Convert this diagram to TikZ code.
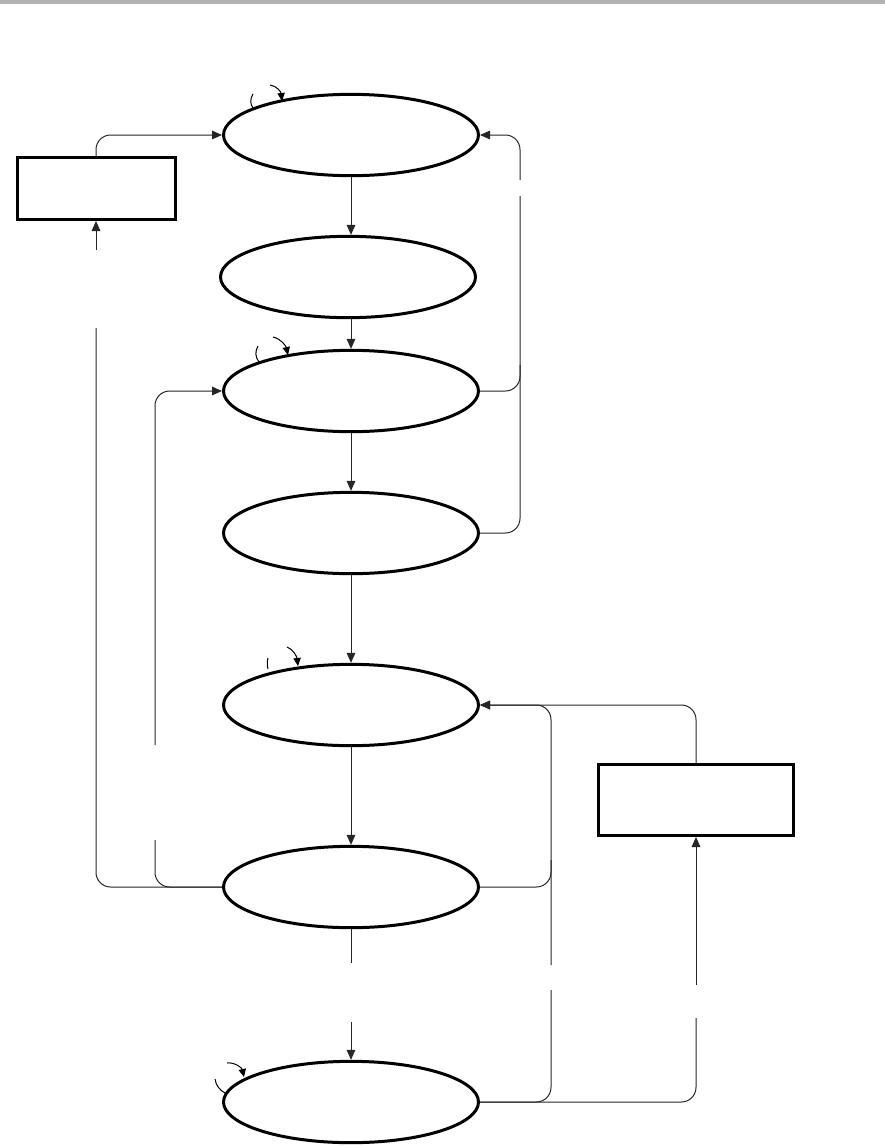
\documentclass[tikz,border=0pt]{standalone}
\usetikzlibrary{shapes.geometric,arrows.meta}
\begin{document}
\begin{tikzpicture}[x=0.75pt,y=-0.75pt,
 st/.style={ellipse,draw,line width=2.25pt,minimum width=191.25pt,minimum height=61pt,inner sep=0pt},
 bx/.style={rectangle,draw,line width=2.25pt,inner sep=0pt},
 conn/.style={draw=black!85,line width=0.75pt,rounded corners=11pt},
 arr/.style={-{Triangle[length=7.5pt,width=6.5pt]}},
 sarr/.style={-{Triangle[length=6pt,width=5.5pt]}},
 loopline/.style={draw,line width=0.75pt}]
\useasboundingbox (0,0) rectangle (885,1146);
\fill[black!30] (0,0) rectangle (885,4);

% states
\node[st] (e1) at (351,135) {};
\node[st] (e2) at (348,277) {};
\node[st] (e3) at (351,391) {};
\node[st] (e4) at (351,533) {};
\node[st] (e5) at (351,705) {};
\node[st] (e6) at (351,887) {};
\node[st] (e7) at (351,1102) {};
\node[bx,minimum width=118.5pt,minimum height=46.5pt] (b1) at (96,188.5) {};
\node[bx,minimum width=146.25pt,minimum height=53.25pt] (b2) at (696,800) {};

% box1 -> e1
\draw[conn,arr] (b1.north) |- (e1.west);
% e6 -> b1 (with gap)
\coordinate (L1) at (96,328);
\coordinate (L2) at (96,250);
\draw[conn] (e6.west) -| (L1);
\draw[conn,arr] (L2) -- (L2 |- b1.south);
% e6 -> e3 (with gap)
\coordinate (M1) at (155,840);
\coordinate (M2) at (155,745);
\draw[conn] (M1) |- (e6.west);
\draw[conn,arr] (M2) |- (e3.west);

% vertical chain
\draw[conn,arr] (e1.south) -- (e1.south |- e2.north);
\draw[conn,arr] (e2.south -| e3.north) -- (e3.north);
\draw[conn,arr] (e3.south) -- (e4.north);
\draw[conn,arr] (e4.south) -- (e5.north);
\draw[conn,arr] (e5.south) -- (e6.north);
\coordinate (N1) at (351,963);
\coordinate (N2) at (351,1022);
\draw[conn] (e6.south) -- (N1);
\draw[conn,arr] (N2) -- (e7.north);

% right upper return
\coordinate (R1) at (520,196);
\coordinate (R2) at (520,180);
\draw[conn] (e4.east) -| (R1);
\draw[conn] (e3.east) -| (520,365);
\draw[conn,arr] (R2) |- (e1.east);

% right lower return
\coordinate (S1) at (551,965);
\coordinate (S2) at (551,990);
\draw[conn] (e7.east) -| (S2);
\draw[conn] (e6.east) -| (551,860);
\draw[conn,arr] (S1) |- (e5.east);

% box2
\draw[conn,arr] (b2.north) |- (e5.east);
\coordinate (T1) at (696,985);
\coordinate (T2) at (696,1018);
\draw[conn] (e7.east) -| (T2);
\draw[conn,arr] (T1) -- (T1 |- b2.south);

% self loops
\draw[loopline] (253,94) .. controls (250,99) and (250,104) .. (253,108);
\draw[loopline,sarr] (270,85) .. controls (277,86) and (281,92) .. (282,101);
\draw[loopline] (258,346) .. controls (255,351) and (255,357) .. (259,362);
\draw[loopline,sarr] (273,337) .. controls (281,339) and (286,346) .. (288,355);
\draw[loopline] (268,658) .. controls (267,662) and (267,665) .. (268,669);
\draw[loopline,sarr] (287,647) .. controls (293,649) and (297,657) .. (298,666);
\draw[loopline] (215,1079) .. controls (216,1086) and (220,1090) .. (225,1093);
\draw[loopline,sarr] (227,1063) .. controls (235,1062) and (242,1068) .. (244,1077);
\end{tikzpicture}
\end{document}
